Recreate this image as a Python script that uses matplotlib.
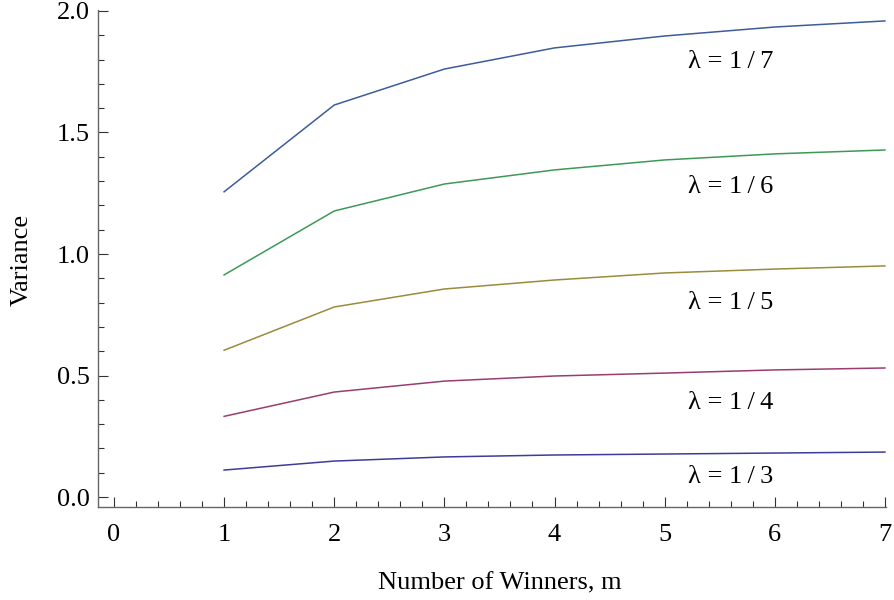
import matplotlib
matplotlib.use("Agg")
import matplotlib.pyplot as plt
from matplotlib.ticker import MultipleLocator, FormatStrFormatter

plt.rcParams['font.family'] = ['Liberation Serif', 'DejaVu Serif']

# number of winners
m = [1, 2, 3, 4, 5, 6, 7]

# variance per lambda
var_l3 = [0.111, 0.148, 0.165, 0.173, 0.177, 0.181, 0.185]
var_l4 = [0.332, 0.432, 0.477, 0.498, 0.510, 0.523, 0.531]
var_l5 = [0.604, 0.782, 0.856, 0.893, 0.922, 0.938, 0.951]
var_l6 = [0.914, 1.177, 1.288, 1.346, 1.387, 1.412, 1.428]
var_l7 = [1.256, 1.613, 1.761, 1.848, 1.897, 1.934, 1.959]

labels = ["λ = 1\u2009/\u20093", "λ = 1\u2009/\u20094", "λ = 1\u2009/\u20095",
          "λ = 1\u2009/\u20096", "λ = 1\u2009/\u20097"]
label_x = [5.6, 5.6, 5.6, 5.6, 5.6]
label_y = [0.083, 0.387, 0.80, 1.276, 1.79]

colors = ["#3d3d99", "#993d71", "#998c3d", "#3d9956", "#3d5c99"]

fig = plt.figure(figsize=(8.94, 6.0), dpi=100)
ax = fig.add_axes([98 / 894, 93 / 600, 788 / 894, 497 / 600])

for ys, c in zip([var_l3, var_l4, var_l5, var_l6, var_l7], colors):
    ax.plot(m, ys, color=c, lw=1.1)

for t, x, y in zip(labels, label_x, label_y):
    ax.text(x, y, t, ha='center', va='center', fontsize=19)

ax.set_xlim(-0.145, 7.01)
ax.set_ylim(-0.041, 2.004)
ax.xaxis.set_major_locator(MultipleLocator(1))
ax.xaxis.set_minor_locator(MultipleLocator(0.2))
ax.yaxis.set_major_locator(MultipleLocator(0.5))
ax.yaxis.set_minor_locator(MultipleLocator(0.1))
ax.yaxis.set_major_formatter(FormatStrFormatter('%.1f'))

for s in ['top', 'right']:
    ax.spines[s].set_visible(False)
for s in ['left', 'bottom']:
    ax.spines[s].set_color('#666666')
    ax.spines[s].set_linewidth(1.0)

ax.tick_params(which='major', direction='in', length=7, width=0.8, color='#333333', labelsize=19)
ax.tick_params(which='minor', direction='in', length=4, width=0.8, color='#333333')
ax.tick_params(axis='x', which='major', pad=12)
ax.tick_params(axis='y', which='major', pad=6)

ax.set_xlabel("Number of Winners, m", fontsize=19)
ax.set_ylabel("Variance", fontsize=19)
ax.xaxis.set_label_coords(0.51, -0.153)
ax.xaxis.label.set_va('center')
ax.yaxis.set_label_coords(-0.0964, 0.497)
ax.yaxis.label.set_va('center')

fig.savefig("out.png", dpi=100)
